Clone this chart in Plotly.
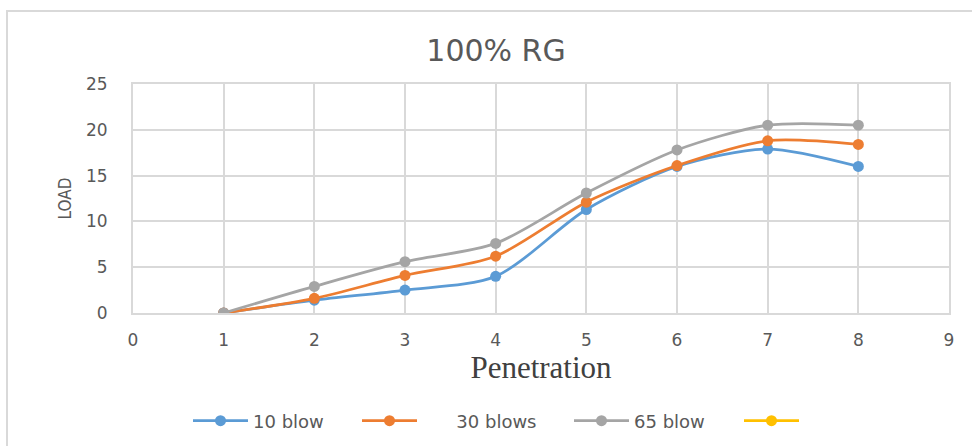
import plotly.graph_objects as go

penetration = [1, 2, 3, 4, 5, 6, 7, 8]
blow10 = [0, 1.4, 2.5, 4.0, 11.3, 16.0, 17.9, 16.0]
blows30 = [0, 1.6, 4.1, 6.2, 12.1, 16.1, 18.8, 18.4]
blow65 = [0, 2.9, 5.6, 7.6, 13.1, 17.8, 20.5, 20.5]

series = [
    ("10 blow", blow10, "#5B9BD5", 99),
    ("      30 blows", blows30, "#ED7D31", 142),
    ("65 blow", blow65, "#A5A5A5", 100),
]

fig = go.Figure()
for name, vals, col, lw in series:
    fig.add_trace(go.Scatter(
        x=penetration, y=vals, name=name, mode="lines+markers",
        line=dict(color=col, width=2.75, shape="spline", smoothing=0.8),
        marker=dict(color=col, size=11), legendwidth=lw,
    ))
# empty 4th series (legend only)
fig.add_trace(go.Scatter(
    x=[None], y=[None], name=" ", mode="lines+markers", legendwidth=10,
    line=dict(color="#FFC000", width=2.75), marker=dict(color="#FFC000", size=11),
))

L, R, T, B = 133, 23, 84, 133
W, H = 972, 446
pw = W - L - R
ph = H - T - B

def px_x(p):
    return (p - L) / pw

def px_y(p):
    return (H - B - p) / ph

fig.add_shape(type="rect", xref="paper", yref="paper",
              x0=px_x(7), x1=px_x(990), y0=px_y(11), y1=px_y(460),
              line=dict(color="#D9D9D9", width=2), layer="below")

fig.update_layout(
    width=W, height=H,
    margin=dict(l=L, r=R, t=T, b=B),
    paper_bgcolor="white", plot_bgcolor="white",
    title=dict(text="100% RG", xref="container", x=496 / W, xanchor="center",
               yref="container", y=1 - 50 / H, yanchor="middle",
               font=dict(family="DejaVu Sans", size=30, color="#595959")),
    showlegend=True,
    legend=dict(orientation="h", xref="container", x=188 / W, xanchor="left",
                yref="container", y=1 - 421 / H, yanchor="middle",
                font=dict(family="DejaVu Sans", size=18, color="#595959"),
                itemwidth=55, traceorder="normal"),
    font=dict(family="DejaVu Sans", color="#595959"),
)
fig.update_xaxes(range=[0, 9], dtick=1, tick0=0, showgrid=True, gridcolor="#D9D9D9", gridwidth=2,
                 showline=True, linecolor="#D9D9D9", linewidth=2, mirror=True, zeroline=False,
                 ticks="outside", ticklen=11, tickcolor="rgba(0,0,0,0)", automargin=False,
                 tickfont=dict(family="DejaVu Sans", size=17, color="#595959"),
                 title=dict(text="Penetration", standoff=7,
                            font=dict(family="Liberation Serif", size=31, color="#404040")))
fig.update_yaxes(range=[0, 25], dtick=5, showgrid=True, gridcolor="#D9D9D9", gridwidth=2,
                 showline=True, linecolor="#D9D9D9", linewidth=2, mirror=True, zeroline=False,
                 ticks="outside", ticklen=20, tickcolor="rgba(0,0,0,0)", automargin=False,
                 tickfont=dict(family="DejaVu Sans", size=17, color="#595959"),
                 title=dict(text="LOAD", standoff=10,
                            font=dict(family="DejaVu Sans Condensed", size=17, color="#595959")))

fig.write_html("out.html")
